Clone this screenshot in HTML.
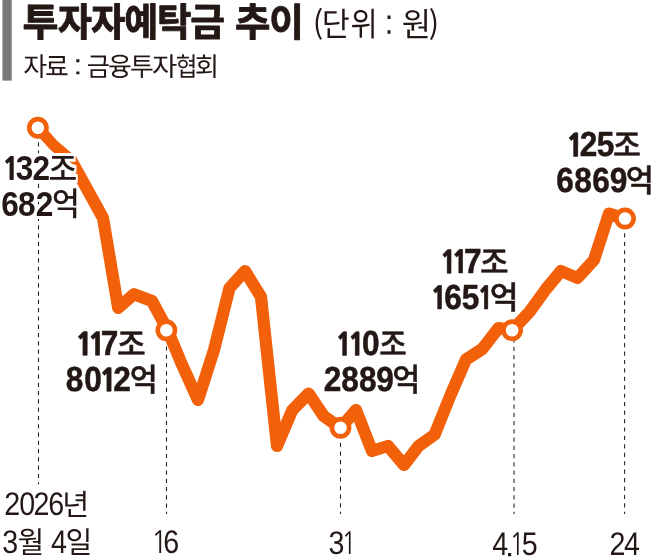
<!DOCTYPE html>
<html lang="ko">
<head>
<meta charset="utf-8">
<title>투자자예탁금 추이</title>
<style>
html,body{margin:0;padding:0;background:#fff;}
body{width:651px;height:560px;overflow:hidden;position:relative;}
svg{position:absolute;left:0;top:0;display:block;}
text{font-family:"Liberation Sans","Noto Sans CJK KR",sans-serif;white-space:pre;}
</style>
</head>
<body>
<svg width="651" height="560" viewBox="0 0 651 560" role="img" aria-label="투자자예탁금 추이 (단위 : 원) 자료 : 금융투자협회 / 2026년 3월 4일 132조 682억, 16 117조 8012억, 31 110조 2889억, 4.15 117조 1651억, 24 125조 6869억">
<defs>
<filter id="halo" x="-15%" y="-30%" width="130%" height="160%" color-interpolation-filters="sRGB">
<feMorphology in="SourceAlpha" operator="dilate" radius="1.8 3" result="d"/>
<feFlood flood-color="#ffffff" result="w"/>
<feComposite in="w" in2="d" operator="in" result="h"/>
<feMerge><feMergeNode in="h"/><feMergeNode in="SourceGraphic"/></feMerge>
</filter>
</defs>
<rect x="0" y="0" width="651" height="560" fill="#ffffff"/>
<rect x="2.4" y="0" width="9.3" height="80.6" fill="#797979"/>
<text transform="rotate(0.03 160 36.09)" font-weight="700" fill="#231815" stroke="#231815" stroke-width="0.9" stroke-linejoin="round"><tspan x="22.63" y="36.09" font-size="38.88" textLength="36.06" lengthAdjust="spacingAndGlyphs">투</tspan><tspan x="57.81" y="36.09" font-size="38.88" textLength="34.19" lengthAdjust="spacingAndGlyphs">자</tspan><tspan x="90.95" y="36.09" font-size="38.88" textLength="34.34" lengthAdjust="spacingAndGlyphs">자</tspan><tspan x="124.28" y="36.09" font-size="38.88" textLength="33.97" lengthAdjust="spacingAndGlyphs">예</tspan><tspan x="156.98" y="36.09" font-size="38.88" textLength="34.42" lengthAdjust="spacingAndGlyphs">탁</tspan><tspan x="190.16" y="36.09" font-size="38.88" textLength="34.65" lengthAdjust="spacingAndGlyphs">금</tspan><tspan x="226" y="36.09" font-size="12"> </tspan><tspan x="235.12" y="36.09" font-size="38.88" textLength="35.41" lengthAdjust="spacingAndGlyphs">추</tspan><tspan x="269.19" y="36.09" font-size="38.88" textLength="34.53" lengthAdjust="spacingAndGlyphs">이</tspan></text>
<text transform="rotate(0.03 375 36.2)" font-weight="400" fill="#231815"><tspan x="312.74" y="35.9" font-size="31.5" textLength="10.49" lengthAdjust="spacingAndGlyphs" font-family='"Noto Sans CJK KR","Liberation Sans",sans-serif'>(</tspan><tspan x="321.7" y="36.2" font-size="33.1" textLength="28.04" lengthAdjust="spacingAndGlyphs">단</tspan><tspan x="350.49" y="36.2" font-size="33.1" textLength="27.06" lengthAdjust="spacingAndGlyphs">위</tspan><tspan x="378" y="36.2" font-size="12"> </tspan><tspan x="384.53" y="33.75" font-size="34.4" textLength="9.05" lengthAdjust="spacingAndGlyphs">:</tspan><tspan x="394" y="36.2" font-size="12"> </tspan><tspan x="401.67" y="36.2" font-size="33.1" textLength="29.27" lengthAdjust="spacingAndGlyphs">원</tspan><tspan x="428.71" y="35.9" font-size="31.5" textLength="10.36" lengthAdjust="spacingAndGlyphs" font-family='"Noto Sans CJK KR","Liberation Sans",sans-serif'>)</tspan></text>
<text transform="rotate(0.03 120 76.05)" font-weight="400" fill="#231815"><tspan x="23.29" y="76.05" font-size="26.2" textLength="23.91" lengthAdjust="spacingAndGlyphs">자</tspan><tspan x="44.95" y="76.05" font-size="26.2" textLength="23.84" lengthAdjust="spacingAndGlyphs">료</tspan><tspan x="70" y="76.05" font-size="12"> </tspan><tspan x="73.23" y="74.4" font-size="28.4" textLength="9.19" lengthAdjust="spacingAndGlyphs">:</tspan><tspan x="82" y="76.05" font-size="12"> </tspan><tspan x="86.84" y="76.05" font-size="26.2" textLength="23.17" lengthAdjust="spacingAndGlyphs">금</tspan><tspan x="108.1" y="76.05" font-size="26.2" textLength="23.87" lengthAdjust="spacingAndGlyphs">융</tspan><tspan x="129.98" y="76.05" font-size="26.2" textLength="23.84" lengthAdjust="spacingAndGlyphs">투</tspan><tspan x="152.14" y="76.05" font-size="26.2" textLength="25.31" lengthAdjust="spacingAndGlyphs">자</tspan><tspan x="175.7" y="76.05" font-size="26.2" textLength="21.67" lengthAdjust="spacingAndGlyphs">협</tspan><tspan x="194.8" y="76.05" font-size="26.2" textLength="24.32" lengthAdjust="spacingAndGlyphs">회</tspan></text>
<line x1="38.5" y1="484.3" x2="38.5" y2="127.75" stroke="#1f1f1f" stroke-width="1.05" stroke-dasharray="4.2 4.09" stroke-dashoffset="2.1"/>
<line x1="166.5" y1="513.9" x2="166.5" y2="330.2" stroke="#1f1f1f" stroke-width="1.05" stroke-dasharray="4.2 4.07" stroke-dashoffset="2.1"/>
<line x1="340.5" y1="513.9" x2="340.5" y2="427.7" stroke="#1f1f1f" stroke-width="1.05" stroke-dasharray="4.2 4.42" stroke-dashoffset="2.1"/>
<line x1="514.0" y1="513.9" x2="514.0" y2="330.2" stroke="#1f1f1f" stroke-width="1.05" stroke-dasharray="4.2 4.05" stroke-dashoffset="2.1"/>
<line x1="624.6" y1="513.9" x2="624.6" y2="218.7" stroke="#1f1f1f" stroke-width="1.05" stroke-dasharray="4.2 4.24" stroke-dashoffset="2.1"/>
<path d="M37.9 127.75 L53.8 145.3 L71 160" fill="none" stroke="#f2600a" stroke-width="11.2" stroke-linejoin="round" stroke-linecap="round"/>
<path d="M71 160 L85.5 186.3 L103 218 L118.2 308 L134 294.2 L152 301 L167.6 330 L180.7 361.7 L198 400 L214 350 L229.5 288 L245 271 L261 297 L277 446 L292.3 410.2 L308.6 393.5 L323.6 416 L340.5 428 L356 410 L372 451 L388 446 L404 465 L418.6 446 L434.6 434.6 L450.8 394.5 L466 359.5 L482.3 349 L498.5 328 L512.6 330 L529.9 311.3 L545.7 289.5 L561 271 L577.5 278 L594 260 L609 213.5 L625 218.5" fill="none" stroke="#f2600a" stroke-width="12.2" stroke-linejoin="round" stroke-linecap="round"/>
<circle cx="37.9" cy="127.75" r="8.6" fill="#fff" stroke="#f2600a" stroke-width="4.6"/>
<circle cx="166.4" cy="330.2" r="8.6" fill="#fff" stroke="#f2600a" stroke-width="4.6"/>
<circle cx="340.5" cy="427.7" r="8.6" fill="#fff" stroke="#f2600a" stroke-width="4.6"/>
<circle cx="512.1" cy="330.2" r="8.6" fill="#fff" stroke="#f2600a" stroke-width="4.6"/>
<circle cx="625" cy="218.5" r="8.6" fill="#fff" stroke="#f2600a" stroke-width="4.6"/>
<text transform="rotate(0.03 40.45 180)" font-weight="700" fill="#231815" filter="url(#halo)"><tspan x="1.77" y="180" font-size="31.44" textLength="18.52" lengthAdjust="spacingAndGlyphs" font-family='NanumGothic,"Liberation Sans",sans-serif' font-weight="800">1</tspan><tspan x="15.82" y="180" font-size="35.47" textLength="17.57" lengthAdjust="spacingAndGlyphs">3</tspan><tspan x="32.55" y="180" font-size="35.47" textLength="17.57" lengthAdjust="spacingAndGlyphs">2</tspan><tspan x="48.56" y="179.68" font-size="31.93" textLength="28.78" lengthAdjust="spacingAndGlyphs" font-weight="500">조</tspan></text>
<text transform="rotate(0.03 39.38 216)" font-weight="700" fill="#231815" filter="url(#halo)"><tspan x="1.21" y="216" font-size="35.47" textLength="17.57" lengthAdjust="spacingAndGlyphs">6</tspan><tspan x="18.1" y="216" font-size="35.47" textLength="17.57" lengthAdjust="spacingAndGlyphs">8</tspan><tspan x="35.7" y="216" font-size="35.47" textLength="17.57" lengthAdjust="spacingAndGlyphs">2</tspan><tspan x="51.97" y="215.49" font-size="31.4" textLength="27.82" lengthAdjust="spacingAndGlyphs" font-weight="500">억</tspan></text>
<text transform="rotate(0.03 111.25 355.6)" font-weight="700" fill="#231815" stroke="#231815" stroke-width="0.5" stroke-linejoin="round"><tspan x="75.06" y="355.35" font-size="30.8" textLength="18.84" lengthAdjust="spacingAndGlyphs" font-family='NanumGothic,"Liberation Sans",sans-serif' font-weight="800">1</tspan><tspan x="87.56" y="355.35" font-size="30.8" textLength="18.84" lengthAdjust="spacingAndGlyphs" font-family='NanumGothic,"Liberation Sans",sans-serif' font-weight="800">1</tspan><tspan x="100.63" y="355.35" font-size="34.74" textLength="17.57" lengthAdjust="spacingAndGlyphs">7</tspan><tspan x="116.92" y="355.15" font-size="31.17" textLength="28.67" lengthAdjust="spacingAndGlyphs" font-weight="500">조</tspan></text>
<text transform="rotate(0.03 110.33 391.6)" font-weight="700" fill="#231815" stroke="#231815" stroke-width="0.5" stroke-linejoin="round"><tspan x="65.87" y="391.35" font-size="34.74" textLength="17.57" lengthAdjust="spacingAndGlyphs">8</tspan><tspan x="84.36" y="391.35" font-size="34.74" textLength="17.57" lengthAdjust="spacingAndGlyphs">0</tspan><tspan x="98.88" y="391.35" font-size="30.8" textLength="18.74" lengthAdjust="spacingAndGlyphs" font-family='NanumGothic,"Liberation Sans",sans-serif' font-weight="800">1</tspan><tspan x="113.2" y="391.35" font-size="34.74" textLength="17.57" lengthAdjust="spacingAndGlyphs">2</tspan><tspan x="129.7" y="390.93" font-size="31.62" textLength="28.01" lengthAdjust="spacingAndGlyphs" font-weight="500">억</tspan></text>
<text transform="rotate(0.03 371.85 355.7)" font-weight="700" fill="#231815" stroke="#231815" stroke-width="0.5" stroke-linejoin="round"><tspan x="335.28" y="355.45" font-size="30.8" textLength="17.57" lengthAdjust="spacingAndGlyphs" font-family='NanumGothic,"Liberation Sans",sans-serif' font-weight="800">1</tspan><tspan x="347.78" y="355.45" font-size="30.8" textLength="17.57" lengthAdjust="spacingAndGlyphs" font-family='NanumGothic,"Liberation Sans",sans-serif' font-weight="800">1</tspan><tspan x="361.99" y="355.45" font-size="34.74" textLength="17.57" lengthAdjust="spacingAndGlyphs">0</tspan><tspan x="379.17" y="355.25" font-size="31.17" textLength="27.56" lengthAdjust="spacingAndGlyphs" font-weight="500">조</tspan></text>
<text transform="rotate(0.03 370.95 391.6)" font-weight="700" fill="#231815" stroke="#231815" stroke-width="0.5" stroke-linejoin="round"><tspan x="323.8" y="391.35" font-size="34.74" textLength="17.57" lengthAdjust="spacingAndGlyphs">2</tspan><tspan x="341.2" y="391.35" font-size="34.74" textLength="17.57" lengthAdjust="spacingAndGlyphs">8</tspan><tspan x="359" y="391.35" font-size="34.74" textLength="17.57" lengthAdjust="spacingAndGlyphs">8</tspan><tspan x="376.25" y="391.35" font-size="34.74" textLength="17.57" lengthAdjust="spacingAndGlyphs">9</tspan><tspan x="392.2" y="390.93" font-size="31.62" textLength="28.01" lengthAdjust="spacingAndGlyphs" font-weight="500">억</tspan></text>
<text transform="rotate(0.03 475 273.6)" font-weight="700" fill="#231815" stroke="#231815" stroke-width="0.5" stroke-linejoin="round"><tspan x="439.7" y="273.35" font-size="30.8" textLength="17.47" lengthAdjust="spacingAndGlyphs" font-family='NanumGothic,"Liberation Sans",sans-serif' font-weight="800">1</tspan><tspan x="451.62" y="273.35" font-size="30.8" textLength="17.36" lengthAdjust="spacingAndGlyphs" font-family='NanumGothic,"Liberation Sans",sans-serif' font-weight="800">1</tspan><tspan x="464.03" y="273.35" font-size="34.74" textLength="17.57" lengthAdjust="spacingAndGlyphs">7</tspan><tspan x="480.07" y="273.15" font-size="31.17" textLength="28.61" lengthAdjust="spacingAndGlyphs" font-weight="500">조</tspan></text>
<text transform="rotate(0.03 474.05 309.3)" font-weight="700" fill="#231815" stroke="#231815" stroke-width="0.5" stroke-linejoin="round"><tspan x="430.28" y="309.05" font-size="30.8" textLength="17.57" lengthAdjust="spacingAndGlyphs" font-family='NanumGothic,"Liberation Sans",sans-serif' font-weight="800">1</tspan><tspan x="444.33" y="309.05" font-size="34.74" textLength="17.57" lengthAdjust="spacingAndGlyphs">6</tspan><tspan x="461.77" y="309.05" font-size="34.74" textLength="17.57" lengthAdjust="spacingAndGlyphs">5</tspan><tspan x="477.44" y="309.05" font-size="30.8" textLength="16.09" lengthAdjust="spacingAndGlyphs" font-family='NanumGothic,"Liberation Sans",sans-serif' font-weight="800">1</tspan><tspan x="489.66" y="308.63" font-size="31.62" textLength="28.75" lengthAdjust="spacingAndGlyphs" font-weight="500">억</tspan></text>
<text transform="rotate(0.03 604.25 156.7)" font-weight="700" fill="#231815" stroke="#231815" stroke-width="0.5" stroke-linejoin="round"><tspan x="565.73" y="156.45" font-size="30.8" textLength="18.74" lengthAdjust="spacingAndGlyphs" font-family='NanumGothic,"Liberation Sans",sans-serif' font-weight="800">1</tspan><tspan x="579.72" y="156.45" font-size="34.74" textLength="17.57" lengthAdjust="spacingAndGlyphs">2</tspan><tspan x="596.77" y="156.45" font-size="34.74" textLength="17.57" lengthAdjust="spacingAndGlyphs">5</tspan><tspan x="612.95" y="156.25" font-size="31.17" textLength="27.94" lengthAdjust="spacingAndGlyphs" font-weight="500">조</tspan></text>
<text transform="rotate(0.03 603.7 192.3)" font-weight="700" fill="#231815" stroke="#231815" stroke-width="0.5" stroke-linejoin="round"><tspan x="556.21" y="192.05" font-size="34.74" textLength="17.57" lengthAdjust="spacingAndGlyphs">6</tspan><tspan x="574.32" y="192.05" font-size="34.74" textLength="17.57" lengthAdjust="spacingAndGlyphs">8</tspan><tspan x="592.13" y="192.05" font-size="34.74" textLength="17.57" lengthAdjust="spacingAndGlyphs">6</tspan><tspan x="609.68" y="192.05" font-size="34.74" textLength="17.57" lengthAdjust="spacingAndGlyphs">9</tspan><tspan x="625.7" y="191.63" font-size="31.62" textLength="28.13" lengthAdjust="spacingAndGlyphs" font-weight="500">억</tspan></text>
<text transform="rotate(0.03 45.92 515)" font-weight="400" fill="#231815"><tspan x="4.22" y="515" font-size="32.7" textLength="15.91" lengthAdjust="spacingAndGlyphs">2</tspan><tspan x="19.22" y="515" font-size="32.7" textLength="15.91" lengthAdjust="spacingAndGlyphs">0</tspan><tspan x="33.59" y="515" font-size="32.7" textLength="15.91" lengthAdjust="spacingAndGlyphs">2</tspan><tspan x="48.2" y="515" font-size="32.7" textLength="15.91" lengthAdjust="spacingAndGlyphs">6</tspan><tspan x="62.28" y="515.2" font-size="29.75" textLength="26.96" lengthAdjust="spacingAndGlyphs">년</tspan></text>
<text transform="rotate(0.03 46.25 553.1)" font-weight="400" fill="#231815"><tspan x="2.13" y="553.1" font-size="32.7" textLength="15.91" lengthAdjust="spacingAndGlyphs">3</tspan><tspan x="17.38" y="553" font-size="30.1" textLength="26.78" lengthAdjust="spacingAndGlyphs">월</tspan><tspan x="44" y="553.1" font-size="12"> </tspan><tspan x="51.08" y="553.1" font-size="32.7" textLength="15.91" lengthAdjust="spacingAndGlyphs">4</tspan><tspan x="65.46" y="553" font-size="30.1" textLength="26.79" lengthAdjust="spacingAndGlyphs">일</tspan></text>
<text transform="rotate(0.03 166.55 553.1)" font-weight="400" fill="#231815"><tspan x="151.09" y="553.1" font-size="30.8" textLength="16.69" lengthAdjust="spacingAndGlyphs" font-family='NanumGothic,"Liberation Sans",sans-serif'>1</tspan><tspan x="163.2" y="553.1" font-size="32.7" textLength="15.91" lengthAdjust="spacingAndGlyphs">6</tspan></text>
<text transform="rotate(0.03 340 553.75)" font-weight="400" fill="#231815"><tspan x="328.38" y="553.75" font-size="32.7" textLength="15.91" lengthAdjust="spacingAndGlyphs">3</tspan><tspan x="341.5" y="553.75" font-size="30.8" textLength="14.95" lengthAdjust="spacingAndGlyphs" font-family='NanumGothic,"Liberation Sans",sans-serif'>1</tspan></text>
<text transform="rotate(0.03 514.38 554.6)" font-weight="400" fill="#231815"><tspan x="492.13" y="554.6" font-size="32.7" textLength="15.91" lengthAdjust="spacingAndGlyphs">4</tspan><tspan x="505.08" y="556.2" font-size="29.4" textLength="9.19" lengthAdjust="spacingAndGlyphs">.</tspan><tspan x="509.57" y="554.6" font-size="30.8" textLength="15.08" lengthAdjust="spacingAndGlyphs" font-family='NanumGothic,"Liberation Sans",sans-serif'>1</tspan><tspan x="521.75" y="554.6" font-size="32.7" textLength="15.91" lengthAdjust="spacingAndGlyphs">5</tspan></text>
<text transform="rotate(0.03 625.05 555.5)" font-weight="400" fill="#231815"><tspan x="609.59" y="555.5" font-size="32.7" textLength="15.91" lengthAdjust="spacingAndGlyphs">2</tspan><tspan x="624.06" y="555.5" font-size="32.7" textLength="15.91" lengthAdjust="spacingAndGlyphs">4</tspan></text>
</svg>
</body>
</html>
